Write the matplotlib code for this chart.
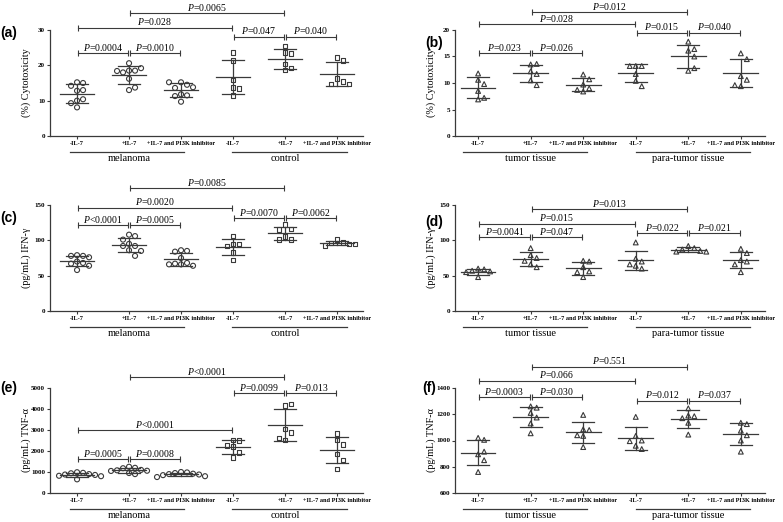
"""Cytotoxicity / IFN-g / TNF-a dot plots with mean +/- SD and p-value brackets."""

import numpy as np
import matplotlib
matplotlib.use('Agg')
import matplotlib.pyplot as plt
import matplotlib.transforms as mtransforms

plt.rcParams['font.family'] = 'Liberation Serif'
plt.rcParams['mathtext.fontset'] = 'custom'
plt.rcParams['mathtext.it'] = 'Liberation Serif:italic'
plt.rcParams['mathtext.rm'] = 'Liberation Serif'

INK = '#3a3a3a'

conditions = ['-IL-7', '+IL-7', '+IL-7 and PI3K inhibitor'] * 2

# (a) cytotoxicity, melanoma / control
cyto_melanoma = [[15.2, 15.0, 14.2, 12.8, 13.0, 10.0, 10.4, 9.3, 8.1],
                 [20.6, 18.5, 18.5, 18.0, 19.2, 16.2, 13.0, 13.7, 18.4],
                 [15.2, 14.5, 13.6, 13.8, 15.2, 11.8, 11.5, 11.3, 9.7]]
cyto_control = [[23.7, 21.3, 15.9, 13.8, 13.5, 11.4],
                [25.5, 23.7, 23.4, 20.4, 18.7, 19.2],
                [22.3, 21.3, 16.3, 15.4, 14.7, 14.7]]
# (b) cytotoxicity, tumor / para-tumor
cyto_tumor = [[11.8, 10.6, 9.8, 8.5, 6.9, 7.2],
              [13.5, 13.6, 12.2, 11.7, 10.5, 9.6],
              [11.6, 10.7, 9.7, 9.0, 8.7, 8.4]]
cyto_para = [[13.2, 13.2, 13.2, 11.7, 10.4, 9.4],
             [17.8, 16.1, 16.4, 15.0, 12.3, 12.8],
             [15.6, 14.5, 11.3, 10.6, 9.4, 9.6]]
# (c) IFN-g, melanoma / control
ifn_melanoma = [[79, 78, 78, 70, 68, 67, 64, 58, 76],
                [108, 106, 101, 95, 92, 92, 86, 85, 78],
                [86, 85, 75, 68, 67, 66, 64, 66, 84]]
ifn_control = [[106, 95, 95, 92, 83, 72],
               [122, 116, 115, 105, 101, 101],
               [101, 97, 96, 95, 93, 95]]
# (d) IFN-g, tumor / para-tumor
ifn_tumor = [[60, 59, 57, 56, 55, 48],
             [89, 79, 75, 66, 62, 71],
             [71, 70, 62, 56, 55, 48]]
ifn_para = [[97, 74, 70, 66, 64, 60],
            [92, 89, 87, 85, 84, 84],
            [88, 82, 72, 70, 66, 55]]
# (e) TNF-a, melanoma / control
tnf_melanoma = [[990, 960, 940, 900, 880, 860, 820, 800, 650],
                [1250, 1200, 1180, 1100, 1080, 1060, 1050, 950, 900],
                [1000, 980, 950, 920, 900, 880, 850, 800, 760]]
tnf_control = [[2520, 2500, 2250, 2200, 1930, 1680],
               [4180, 4240, 3040, 2880, 2520, 2620],
               [2820, 2520, 2320, 1850, 1580, 1150]]
# (f) TNF-a, tumor / para-tumor
tnf_tumor = [[1020, 1005, 895, 915, 850, 760],
             [1260, 1250, 1210, 1175, 1130, 1055],
             [1195, 1085, 1080, 1040, 1035, 950]]
tnf_para = [[1180, 1035, 1000, 995, 960, 935],
            [1245, 1190, 1185, 1170, 1135, 1045],
            [1135, 1125, 1075, 1040, 1000, 915]]

# brackets: (from, to, height, p text)
a_brackets = [(0, 1, 23.5, '=0.0004'), (1, 2, 23.5, '=0.0010'), (0, 3, 30.6, '=0.028'),
              (1, 4, 34.8, '=0.0065'), (3, 4, 28.1, '=0.047'), (4, 5, 28.1, '=0.040')]
b_brackets = [(0, 1, 15.6, '=0.023'), (1, 2, 15.6, '=0.026'), (0, 3, 21.1, '=0.028'),
              (1, 4, 23.4, '=0.012'), (3, 4, 19.5, '=0.015'), (4, 5, 19.5, '=0.040')]
c_brackets = [(0, 1, 121.7, '<0.0001'), (1, 2, 121.7, '=0.0005'), (0, 3, 146.2, '=0.0020'),
              (1, 4, 173.6, '=0.0085'), (3, 4, 131.2, '=0.0070'), (4, 5, 131.2, '=0.0062')]
d_brackets = [(0, 1, 104.2, '=0.0041'), (1, 2, 104.2, '=0.047'), (0, 3, 123.8, '=0.015'),
              (1, 4, 144.0, '=0.013'), (3, 4, 109.8, '=0.022'), (4, 5, 109.8, '=0.021')]
e_brackets = [(0, 1, 1620, '=0.0005'), (1, 2, 1620, '=0.0008'), (0, 3, 3000, '<0.0001'),
              (1, 4, 5520, '<0.0001'), (3, 4, 4750, '=0.0099'), (4, 5, 4750, '=0.013')]
f_brackets = [(0, 1, 1329, '=0.0003'), (1, 2, 1329, '=0.030'), (0, 3, 1456, '=0.066'),
              (1, 4, 1562, '=0.551'), (3, 4, 1303, '=0.012'), (4, 5, 1303, '=0.037')]


def swarm(ax, x, vals, step=6.0):
    """Spread points sideways (in pixels) so they don't overlap."""
    pts = ax.transData.transform(np.column_stack([np.full(len(vals), x), vals]))
    placed = []
    for px, py in pts:
        for k in [0, 1, -1, 2, -2, 3, -3, 4, -4]:
            cx = px + k * step
            if all(np.hypot(cx - qx, py - qy) >= step for qx, qy in placed):
                break
        placed.append((cx, py))
    out = ax.transData.inverted().transform(np.array(placed))
    return out[:, 0]


MARKER_SIZE = {'o': 13, 's': 11, '^': 12}


def draw_panel(ax, groups, markers, ylim, yticks, ylabel, names, spans,
               brackets, xlim, label_x):
    ax.set_xlim(*xlim)
    ax.set_ylim(*ylim)
    for i, (vals, mk) in enumerate(zip(groups, markers)):
        vals = np.asarray(vals, dtype=float)
        m, sd = vals.mean(), vals.std(ddof=1)
        xs = swarm(ax, i, vals)
        ax.scatter(xs, vals, marker=mk, s=MARKER_SIZE[mk], facecolors='none',
                   edgecolors=INK, linewidths=0.8, zorder=2, clip_on=False)
        ax.plot([i - 0.33, i + 0.33], [m, m], color=INK, lw=0.9, zorder=3)
        ax.plot([i - 0.21, i + 0.21], [m + sd, m + sd], color=INK, lw=0.9, zorder=3)
        ax.plot([i - 0.21, i + 0.21], [m - sd, m - sd], color=INK, lw=0.9, zorder=3)
        ax.plot([i, i], [m - sd, m + sd], color=INK, lw=0.9, zorder=3)

    for x0, x1, y, p in brackets:
        ax.plot([x0 + 0.02, x1 - 0.02], [y, y], color=INK, lw=0.8, marker='|',
                ms=4, mew=0.8, clip_on=False)
        ax.annotate(r'$\mathit{P}$' + p, ((x0 + x1) / 2, y), xytext=(0, 0.3),
                    textcoords='offset points', ha='center', va='bottom',
                    fontsize=7, annotation_clip=False)

    ax.spines['top'].set_visible(False)
    ax.spines['right'].set_visible(False)
    for s in ['left', 'bottom']:
        ax.spines[s].set_color(INK)
        ax.spines[s].set_linewidth(0.9)
    ax.set_yticks(yticks)
    ax.set_yticklabels([str(t) for t in yticks], fontsize=5.0, fontweight='bold')
    ax.set_xticks(range(6))
    ax.set_xticklabels(conditions, fontsize=4.5, fontweight='bold')
    ax.tick_params(axis='both', length=2.5, width=0.8, color=INK, pad=1.0)

    ax.text(label_x, 0.5, ylabel, transform=ax.transAxes, rotation=90,
            ha='center', va='center', fontsize=7.3)

    trans = mtransforms.blended_transform_factory(ax.transData, ax.transAxes)
    for name, (s0, s1), cx in zip(names, spans, [1, 4]):
        ax.plot([s0, s1], [-0.151, -0.151], transform=trans, color=INK, lw=0.9,
                clip_on=False)
        ax.text(cx, -0.215, name, transform=trans, ha='center', va='center',
                fontsize=7.5)


fig = plt.figure(figsize=(7.83, 5.22), dpi=100)

W, H = 783, 522
left_pos = (50 / W, 313 / W)
right_pos = (455 / W, 310 / W)
rows = [(1 - 136 / H, 106 / H), (1 - 311 / H, 106 / H), (1 - 493 / H, 105 / H)]

left_xlim = (-0.52, 5.5)
right_xlim = (-0.44, 5.46)
left_spans = [(-0.135, 2.05), (2.98, 5.19)]
right_spans = [(-0.29, 2.07), (3.0, 5.17)]
left_names = ['melanoma', 'control']
right_names = ['tumor tissue', 'para-tumor tissue']
left_markers = ['o'] * 3 + ['s'] * 3
right_markers = ['^'] * 6
left_lx = (26 - 50) / 313
right_lx = (431 - 455) / 310

panels = [
    (left_pos, rows[0], cyto_melanoma + cyto_control, left_markers, (0, 30), [0, 10, 20, 30],
     '(%) Cytotoxicity', left_names, left_spans, a_brackets, left_xlim, left_lx),
    (right_pos, rows[0], cyto_tumor + cyto_para, right_markers, (0, 20), [0, 5, 10, 15, 20],
     '(%) Cytotoxicity', right_names, right_spans, b_brackets, right_xlim, right_lx),
    (left_pos, rows[1], ifn_melanoma + ifn_control, left_markers, (0, 150), [0, 50, 100, 150],
     '(pg/mL) IFN-γ', left_names, left_spans, c_brackets, left_xlim, left_lx),
    (right_pos, rows[1], ifn_tumor + ifn_para, right_markers, (0, 150), [0, 50, 100, 150],
     '(pg/mL) IFN-γ', right_names, right_spans, d_brackets, right_xlim, right_lx),
    (left_pos, rows[2], tnf_melanoma + tnf_control, left_markers, (0, 5000),
     [0, 1000, 2000, 3000, 4000, 5000],
     '(pg/mL) TNF-α', left_names, left_spans, e_brackets, left_xlim, left_lx),
    (right_pos, rows[2], tnf_tumor + tnf_para, right_markers, (600, 1400),
     [600, 800, 1000, 1200, 1400],
     '(pg/mL) TNF-α', right_names, right_spans, f_brackets, right_xlim, right_lx),
]

for (x, w), (y, h), groups, mks, ylim, yt, yl, names, spans, br, xl, lx in panels:
    ax = fig.add_axes([x, y, w, h])
    draw_panel(ax, groups, mks, ylim, yt, yl, names, spans, br, xl, lx)

panel_tags = [('(a)', 0, 33), ('(b)', 425, 43), ('(c)', 0, 218),
              ('(d)', 425, 222), ('(e)', 0, 388), ('(f)', 422, 388)]
for tag, px, py in panel_tags:
    fig.text(px / W, 1 - py / H, tag, fontfamily='Liberation Sans',
             fontweight='bold', fontsize=10, ha='left', va='center')

plt.savefig('out.png', dpi=100)
